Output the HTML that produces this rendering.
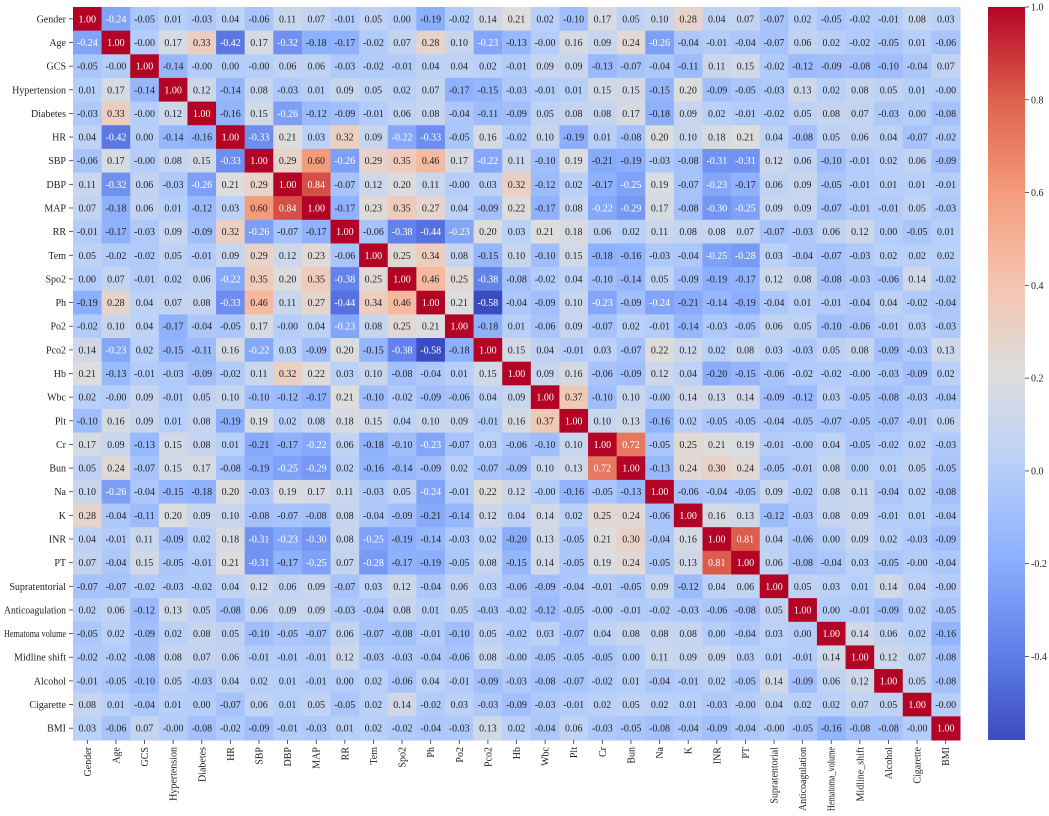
<!DOCTYPE html>
<html><head><meta charset="utf-8"><style>
body{margin:0;background:#fff;width:1049px;height:816px;overflow:hidden;}
svg{display:block;font-family:"Liberation Serif","Times New Roman",serif;}
svg text{font-family:"Liberation Serif","Times New Roman",serif;}
</style></head><body>
<svg id="chart" width="1049" height="816" font-family="Liberation Serif, serif"></svg>
<script>
const labels=["Gender","Age","GCS","Hypertension","Diabetes","HR","SBP","DBP","MAP","RR","Tem","Spo2","Ph","Po2","Pco2","Hb","Wbc","Plt","Cr","Bun","Na","K","INR","PT","Supratentorial","Anticoagulation","Hematoma_volume","Midline_shift","Alcohol","Cigarette","BMI"];
const rowLabels=["Gender","Age","GCS","Hypertension","Diabetes","HR","SBP","DBP","MAP","RR","Tem","Spo2","Ph","Po2","Pco2","Hb","Wbc","Plt","Cr","Bun","Na","K","INR","PT","Supratentorial","Anticoagulation","Hematoma volume","Midline shift","Alcohol","Cigarette","BMI"];
const values=[
[1.00,-0.24,-0.05,0.01,-0.03,0.04,-0.06,0.11,0.07,-0.01,0.05,0.00,-0.19,-0.02,0.14,0.21,0.02,-0.10,0.17,0.05,0.10,0.28,0.04,0.07,-0.07,0.02,-0.05,-0.02,-0.01,0.08,0.03],
[-0.24,1.00,-0.00,0.17,0.33,-0.42,0.17,-0.32,-0.18,-0.17,-0.02,0.07,0.28,0.10,-0.23,-0.13,-0.00,0.16,0.09,0.24,-0.26,-0.04,-0.01,-0.04,-0.07,0.06,0.02,-0.02,-0.05,0.01,-0.06],
[-0.05,-0.00,1.00,-0.14,-0.00,0.00,-0.00,0.06,0.06,-0.03,-0.02,-0.01,0.04,0.04,0.02,-0.01,0.09,0.09,-0.13,-0.07,-0.04,-0.11,0.11,0.15,-0.02,-0.12,-0.09,-0.08,-0.10,-0.04,0.07],
[0.01,0.17,-0.14,1.00,0.12,-0.14,0.08,-0.03,0.01,0.09,0.05,0.02,0.07,-0.17,-0.15,-0.03,-0.01,0.01,0.15,0.15,-0.15,0.20,-0.09,-0.05,-0.03,0.13,0.02,0.08,0.05,0.01,-0.00],
[-0.03,0.33,-0.00,0.12,1.00,-0.16,0.15,-0.26,-0.12,-0.09,-0.01,0.06,0.08,-0.04,-0.11,-0.09,0.05,0.08,0.08,0.17,-0.18,0.09,0.02,-0.01,-0.02,0.05,0.08,0.07,-0.03,0.00,-0.08],
[0.04,-0.42,0.00,-0.14,-0.16,1.00,-0.33,0.21,0.03,0.32,0.09,-0.22,-0.33,-0.05,0.16,-0.02,0.10,-0.19,0.01,-0.08,0.20,0.10,0.18,0.21,0.04,-0.08,0.05,0.06,0.04,-0.07,-0.02],
[-0.06,0.17,-0.00,0.08,0.15,-0.33,1.00,0.29,0.60,-0.26,0.29,0.35,0.46,0.17,-0.22,0.11,-0.10,0.19,-0.21,-0.19,-0.03,-0.08,-0.31,-0.31,0.12,0.06,-0.10,-0.01,0.02,0.06,-0.09],
[0.11,-0.32,0.06,-0.03,-0.26,0.21,0.29,1.00,0.84,-0.07,0.12,0.20,0.11,-0.00,0.03,0.32,-0.12,0.02,-0.17,-0.25,0.19,-0.07,-0.23,-0.17,0.06,0.09,-0.05,-0.01,0.01,0.01,-0.01],
[0.07,-0.18,0.06,0.01,-0.12,0.03,0.60,0.84,1.00,-0.17,0.23,0.35,0.27,0.04,-0.09,0.22,-0.17,0.08,-0.22,-0.29,0.17,-0.08,-0.30,-0.25,0.09,0.09,-0.07,-0.01,-0.01,0.05,-0.03],
[-0.01,-0.17,-0.03,0.09,-0.09,0.32,-0.26,-0.07,-0.17,1.00,-0.06,-0.38,-0.44,-0.23,0.20,0.03,0.21,0.18,0.06,0.02,0.11,0.08,0.08,0.07,-0.07,-0.03,0.06,0.12,0.00,-0.05,0.01],
[0.05,-0.02,-0.02,0.05,-0.01,0.09,0.29,0.12,0.23,-0.06,1.00,0.25,0.34,0.08,-0.15,0.10,-0.10,0.15,-0.18,-0.16,-0.03,-0.04,-0.25,-0.28,0.03,-0.04,-0.07,-0.03,0.02,0.02,0.02],
[0.00,0.07,-0.01,0.02,0.06,-0.22,0.35,0.20,0.35,-0.38,0.25,1.00,0.46,0.25,-0.38,-0.08,-0.02,0.04,-0.10,-0.14,0.05,-0.09,-0.19,-0.17,0.12,0.08,-0.08,-0.03,-0.06,0.14,-0.02],
[-0.19,0.28,0.04,0.07,0.08,-0.33,0.46,0.11,0.27,-0.44,0.34,0.46,1.00,0.21,-0.58,-0.04,-0.09,0.10,-0.23,-0.09,-0.24,-0.21,-0.14,-0.19,-0.04,0.01,-0.01,-0.04,0.04,-0.02,-0.04],
[-0.02,0.10,0.04,-0.17,-0.04,-0.05,0.17,-0.00,0.04,-0.23,0.08,0.25,0.21,1.00,-0.18,0.01,-0.06,0.09,-0.07,0.02,-0.01,-0.14,-0.03,-0.05,0.06,0.05,-0.10,-0.06,-0.01,0.03,-0.03],
[0.14,-0.23,0.02,-0.15,-0.11,0.16,-0.22,0.03,-0.09,0.20,-0.15,-0.38,-0.58,-0.18,1.00,0.15,0.04,-0.01,0.03,-0.07,0.22,0.12,0.02,0.08,0.03,-0.03,0.05,0.08,-0.09,-0.03,0.13],
[0.21,-0.13,-0.01,-0.03,-0.09,-0.02,0.11,0.32,0.22,0.03,0.10,-0.08,-0.04,0.01,0.15,1.00,0.09,0.16,-0.06,-0.09,0.12,0.04,-0.20,-0.15,-0.06,-0.02,-0.02,-0.00,-0.03,-0.09,0.02],
[0.02,-0.00,0.09,-0.01,0.05,0.10,-0.10,-0.12,-0.17,0.21,-0.10,-0.02,-0.09,-0.06,0.04,0.09,1.00,0.37,-0.10,0.10,-0.00,0.14,0.13,0.14,-0.09,-0.12,0.03,-0.05,-0.08,-0.03,-0.04],
[-0.10,0.16,0.09,0.01,0.08,-0.19,0.19,0.02,0.08,0.18,0.15,0.04,0.10,0.09,-0.01,0.16,0.37,1.00,0.10,0.13,-0.16,0.02,-0.05,-0.05,-0.04,-0.05,-0.07,-0.05,-0.07,-0.01,0.06],
[0.17,0.09,-0.13,0.15,0.08,0.01,-0.21,-0.17,-0.22,0.06,-0.18,-0.10,-0.23,-0.07,0.03,-0.06,-0.10,0.10,1.00,0.72,-0.05,0.25,0.21,0.19,-0.01,-0.00,0.04,-0.05,-0.02,0.02,-0.03],
[0.05,0.24,-0.07,0.15,0.17,-0.08,-0.19,-0.25,-0.29,0.02,-0.16,-0.14,-0.09,0.02,-0.07,-0.09,0.10,0.13,0.72,1.00,-0.13,0.24,0.30,0.24,-0.05,-0.01,0.08,0.00,0.01,0.05,-0.05],
[0.10,-0.26,-0.04,-0.15,-0.18,0.20,-0.03,0.19,0.17,0.11,-0.03,0.05,-0.24,-0.01,0.22,0.12,-0.00,-0.16,-0.05,-0.13,1.00,-0.06,-0.04,-0.05,0.09,-0.02,0.08,0.11,-0.04,0.02,-0.08],
[0.28,-0.04,-0.11,0.20,0.09,0.10,-0.08,-0.07,-0.08,0.08,-0.04,-0.09,-0.21,-0.14,0.12,0.04,0.14,0.02,0.25,0.24,-0.06,1.00,0.16,0.13,-0.12,-0.03,0.08,0.09,-0.01,0.01,-0.04],
[0.04,-0.01,0.11,-0.09,0.02,0.18,-0.31,-0.23,-0.30,0.08,-0.25,-0.19,-0.14,-0.03,0.02,-0.20,0.13,-0.05,0.21,0.30,-0.04,0.16,1.00,0.81,0.04,-0.06,0.00,0.09,0.02,-0.03,-0.09],
[0.07,-0.04,0.15,-0.05,-0.01,0.21,-0.31,-0.17,-0.25,0.07,-0.28,-0.17,-0.19,-0.05,0.08,-0.15,0.14,-0.05,0.19,0.24,-0.05,0.13,0.81,1.00,0.06,-0.08,-0.04,0.03,-0.05,-0.00,-0.04],
[-0.07,-0.07,-0.02,-0.03,-0.02,0.04,0.12,0.06,0.09,-0.07,0.03,0.12,-0.04,0.06,0.03,-0.06,-0.09,-0.04,-0.01,-0.05,0.09,-0.12,0.04,0.06,1.00,0.05,0.03,0.01,0.14,0.04,-0.00],
[0.02,0.06,-0.12,0.13,0.05,-0.08,0.06,0.09,0.09,-0.03,-0.04,0.08,0.01,0.05,-0.03,-0.02,-0.12,-0.05,-0.00,-0.01,-0.02,-0.03,-0.06,-0.08,0.05,1.00,0.00,-0.01,-0.09,0.02,-0.05],
[-0.05,0.02,-0.09,0.02,0.08,0.05,-0.10,-0.05,-0.07,0.06,-0.07,-0.08,-0.01,-0.10,0.05,-0.02,0.03,-0.07,0.04,0.08,0.08,0.08,0.00,-0.04,0.03,0.00,1.00,0.14,0.06,0.02,-0.16],
[-0.02,-0.02,-0.08,0.08,0.07,0.06,-0.01,-0.01,-0.01,0.12,-0.03,-0.03,-0.04,-0.06,0.08,-0.00,-0.05,-0.05,-0.05,0.00,0.11,0.09,0.09,0.03,0.01,-0.01,0.14,1.00,0.12,0.07,-0.08],
[-0.01,-0.05,-0.10,0.05,-0.03,0.04,0.02,0.01,-0.01,0.00,0.02,-0.06,0.04,-0.01,-0.09,-0.03,-0.08,-0.07,-0.02,0.01,-0.04,-0.01,0.02,-0.05,0.14,-0.09,0.06,0.12,1.00,0.05,-0.08],
[0.08,0.01,-0.04,0.01,0.00,-0.07,0.06,0.01,0.05,-0.05,0.02,0.14,-0.02,0.03,-0.03,-0.09,-0.03,-0.01,0.02,0.05,0.02,0.01,-0.03,-0.00,0.04,0.02,0.02,0.07,0.05,1.00,-0.00],
[0.03,-0.06,0.07,-0.00,-0.08,-0.02,-0.09,-0.01,-0.03,0.01,0.02,-0.02,-0.04,-0.03,0.13,0.02,-0.04,0.06,-0.03,-0.05,-0.08,-0.04,-0.09,-0.04,-0.00,-0.05,-0.16,-0.08,-0.08,-0.00,1.00]
];
const cbTicks=[-0.4,-0.2,0.0,0.2,0.4,0.6,0.8,1.0];
const vmin=-0.58, vmax=1.0;

const NS="http://www.w3.org/2000/svg";
const svg=document.getElementById('chart');
const X0=73,Y0=7,X1=960,Y1=740;
const FONT='"Liberation Serif", "Times New Roman", serif';
const n=labels.length, cw=(X1-X0)/n, ch=(Y1-Y0)/n;
const xPos=i=>X0+i*cw, yPos=i=>Y0+i*ch;
const stops=[[59,76,192],[98,130,234],[141,176,254],[184,208,249],[221,221,221],[245,196,173],[244,154,123],[222,96,77],[180,4,38]];
function cmap(v){let t=(v-vmin)/(vmax-vmin);t=Math.max(0,Math.min(1,t));const p=t*8,i=Math.min(7,Math.floor(p)),f=p-i;
 return stops[i].map((c,k)=>Math.round(c+(stops[i+1][k]-c)*f));}
function lum(c){const l=c.map(x=>{x/=255;return x<=0.03928?x/12.92:Math.pow((x+0.055)/1.055,2.4)});return 0.2126*l[0]+0.7152*l[1]+0.0722*l[2];}
function fmt(v){return (Object.is(v,-0)?'-':'')+v.toFixed(2);}
function mk(tag,attrs,parent){const e=document.createElementNS(NS,tag);for(const k in attrs)e.setAttribute(k,attrs[k]);if(tag==='text'){e.style.fontFamily=FONT;}(parent||svg).appendChild(e);return e;}
function fit(t,max){const w=t.getComputedTextLength();if(w>max){t.setAttribute('textLength',max);t.setAttribute('lengthAdjust','spacingAndGlyphs');}}

const g=mk('g',{});


values.forEach((row,r)=>row.forEach((v,c)=>{
 const col=cmap(v);
 const rect=mk('rect',{x:xPos(c),y:yPos(r),width:cw+0.5,height:ch+0.5,fill:`rgb(${col})`},g);
 
 
 const t=mk('text',{x:xPos(c)+cw/2,y:yPos(r)+ch/2+3.5,'text-anchor':'middle','font-size':'10',fill:lum(col)>0.408?'#222':'#fff'},g);
 
 
 t.textContent=fmt(v);
}));
rowLabels.forEach((l,i)=>{
 const t=mk('text',{x:X0-7,y:yPos(i)+ch/2+3.5,'text-anchor':'end','font-size':'10',fill:'#222'});
 
 
 t.textContent=l;
 fit(t,62);
 mk('line',{x1:X0-4,x2:X0,y1:yPos(i)+ch/2,y2:yPos(i)+ch/2,stroke:'#333','stroke-width':0.8});
});
labels.forEach((l,i)=>{
 const cx=xPos(i)+cw/2;
 mk('line',{x1:cx,x2:cx,y1:Y1,y2:Y1+4,stroke:'#333','stroke-width':0.8});
 const t=mk('text',{x:cx+3.5,y:Y1+7,'text-anchor':'end','font-size':'10',fill:'#222',transform:`rotate(-90 ${cx+3.5} ${Y1+7})`});
 
 
 t.textContent=l;
 fit(t,64);
});
const CX0=988,CX1=1025;
const defs=mk('defs',{});
const grad=mk('linearGradient',{id:'cb',x1:0,y1:1,x2:0,y2:0},defs);
stops.forEach((s,i)=>mk('stop',{offset:i/8,'stop-color':`rgb(${s})`},grad));
const cb=mk('rect',{x:CX0,y:Y0,width:CX1-CX0,height:Y1-Y0,fill:'url(#cb)'});


const cy=v=>Y0+(vmax-v)/(vmax-vmin)*(Y1-Y0);
cbTicks.forEach(v=>{
 mk('line',{x1:CX1,x2:CX1+4,y1:cy(v),y2:cy(v),stroke:'#333','stroke-width':0.8});
 const t=mk('text',{x:CX1+6,y:cy(v)+3.5,'font-size':'10',fill:'#222'});
 
 
 t.textContent=v.toFixed(1);
});
</script>
</body></html>
